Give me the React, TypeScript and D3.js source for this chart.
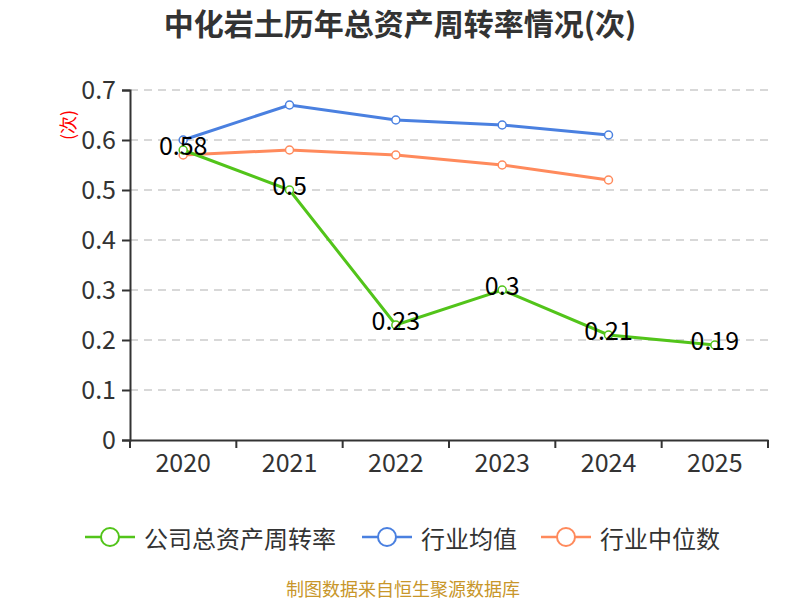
import React, { useEffect, useRef } from 'react';
import * as d3 from 'd3';

const years = ['2020', '2021', '2022', '2023', '2024', '2025'];
const companyTurnover = [0.58, 0.5, 0.23, 0.3, 0.21, 0.19];
const industryAvg = [0.6, 0.67, 0.64, 0.63, 0.61];
const industryMedian = [0.57, 0.58, 0.57, 0.55, 0.52];
const yTicks = [0, 0.1, 0.2, 0.3, 0.4, 0.5, 0.6, 0.7];
const legendNames = ['公司总资产周转率', '行业均值', '行业中位数'];

const FONT = '"Noto Sans CJK SC", "Noto Sans", sans-serif';

function App() {
  const svgRef = useRef<SVGSVGElement>(null);
  const width = 800;
  const height = 600;

  useEffect(() => {
    if (!svgRef.current) return;
    const svg = d3.select(svgRef.current);
    svg.selectAll('*').remove();

    const margin = { top: 90, right: 32, bottom: 160, left: 130 };
    const innerWidth = width - margin.left - margin.right;
    const innerHeight = height - margin.top - margin.bottom;

    const x = d3.scaleBand().domain(years).range([0, innerWidth]);
    const y = d3.scaleLinear().domain([0, 0.7]).range([innerHeight, 0]);
    const cx = (yr: string) => (x(yr) || 0) + x.bandwidth() / 2;

    // Title
    svg.append('text')
      .attr('x', 400)
      .attr('y', 35)
      .attr('text-anchor', 'middle')
      .style('font-family', FONT)
      .style('font-size', '30px')
      .style('font-weight', 'bold')
      .style('fill', '#333')
      .text('中化岩土历年总资产周转率情况(次)');

    const g = svg.append('g')
      .attr('transform', `translate(${margin.left},${margin.top})`);

    // Grid lines
    g.selectAll('.grid')
      .data(yTicks.filter(t => t > 0))
      .enter().append('line')
      .attr('x1', 0)
      .attr('x2', innerWidth)
      .attr('y1', d => y(d))
      .attr('y2', d => y(d))
      .attr('stroke', '#ccc')
      .attr('stroke-width', 1.5)
      .attr('stroke-dasharray', '8,6');

    // Y axis
    const yAxis = g.append('g')
      .call(d3.axisLeft(y).tickValues(yTicks).tickSize(8).tickFormat(d => d3.format('~g')(d as number)));
    yAxis.select('.domain').attr('stroke', '#333').attr('stroke-width', 2);
    yAxis.selectAll('.tick line').attr('stroke', '#333').attr('stroke-width', 2);
    yAxis.selectAll('.tick text')
      .attr('x', -14)
      .style('font-family', FONT)
      .style('font-size', '25px')
      .style('fill', '#333');

    // Y axis unit label
    g.append('text')
      .attr('transform', `translate(-60,${y(0.63)}) rotate(-90)`)
      .attr('text-anchor', 'middle')
      .attr('dominant-baseline', 'middle')
      .style('font-family', FONT)
      .style('font-size', '18px')
      .style('fill', 'red')
      .text('(次)');

    // X axis
    const xAxis = g.append('g')
      .attr('transform', `translate(0,${innerHeight})`)
      .call(d3.axisBottom(x).tickSize(0).tickSizeOuter(0));
    xAxis.select('.domain').attr('stroke', '#333').attr('stroke-width', 2);
    xAxis.selectAll('.tick text')
      .attr('y', 14)
      .style('font-family', FONT)
      .style('font-size', '25px')
      .style('fill', '#333');
    // Tick marks at band boundaries
    const bounds = years.map(yr => x(yr) || 0).concat([innerWidth]);
    xAxis.selectAll('.bound')
      .data(bounds)
      .enter().append('line')
      .attr('x1', d => d)
      .attr('x2', d => d)
      .attr('y1', 0)
      .attr('y2', 8)
      .attr('stroke', '#333')
      .attr('stroke-width', 2);

    const series = [
      { name: legendNames[1], values: industryAvg, color: '#4a80e0' },
      { name: legendNames[2], values: industryMedian, color: '#ff8a5c' },
      { name: legendNames[0], values: companyTurnover, color: '#52c41a' },
    ];

    const line = d3.line<number>()
      .x((_, i) => cx(years[i]))
      .y(d => y(d));

    series.forEach(s => {
      g.append('path')
        .datum(s.values)
        .attr('fill', 'none')
        .attr('stroke', s.color)
        .attr('stroke-width', 3)
        .attr('d', line);
      g.selectAll(null)
        .data(s.values)
        .enter().append('circle')
        .attr('cx', (_, i) => cx(years[i]))
        .attr('cy', d => y(d))
        .attr('r', 4)
        .attr('fill', '#fff')
        .attr('stroke', s.color)
        .attr('stroke-width', 1.5);
    });

    // Value labels for company series
    g.selectAll('.vlabel')
      .data(companyTurnover)
      .enter().append('text')
      .attr('x', (_, i) => cx(years[i]))
      .attr('y', d => y(d) - 2)
      .attr('text-anchor', 'middle')
      .attr('dominant-baseline', 'middle')
      .style('font-family', FONT)
      .style('font-size', '25px')
      .style('fill', '#000')
      .text(d => d3.format('~g')(d));

    // Legend
    const legendItems = [
      { name: legendNames[0], color: '#52c41a', x: 85 },
      { name: legendNames[1], color: '#4a80e0', x: 362 },
      { name: legendNames[2], color: '#ff8a5c', x: 541 },
    ];
    const legend = svg.append('g').attr('transform', 'translate(0,537)');
    legendItems.forEach(item => {
      const lg = legend.append('g').attr('transform', `translate(${item.x},0)`);
      lg.append('line')
        .attr('x1', 0).attr('x2', 50)
        .attr('y1', 0).attr('y2', 0)
        .attr('stroke', item.color)
        .attr('stroke-width', 2.5);
      lg.append('circle')
        .attr('cx', 25).attr('cy', 0).attr('r', 9)
        .attr('fill', '#fff')
        .attr('stroke', item.color)
        .attr('stroke-width', 2);
      lg.append('text')
        .attr('x', 59)
        .attr('y', 0)
        .attr('dominant-baseline', 'central')
        .style('font-family', FONT)
        .style('font-size', '24px')
        .style('fill', '#333')
        .text(item.name);
    });

    // Footer
    svg.append('text')
      .attr('x', 403)
      .attr('y', 596)
      .attr('text-anchor', 'middle')
      .style('font-family', FONT)
      .style('font-size', '18px')
      .style('fill', '#c8962a')
      .text('制图数据来自恒生聚源数据库');
  }, []);

  return (
    <svg ref={svgRef} width={width} height={height} style={{ position: 'absolute', left: 0, top: 0, background: '#fff' }}></svg>
  );
}

export default App;
